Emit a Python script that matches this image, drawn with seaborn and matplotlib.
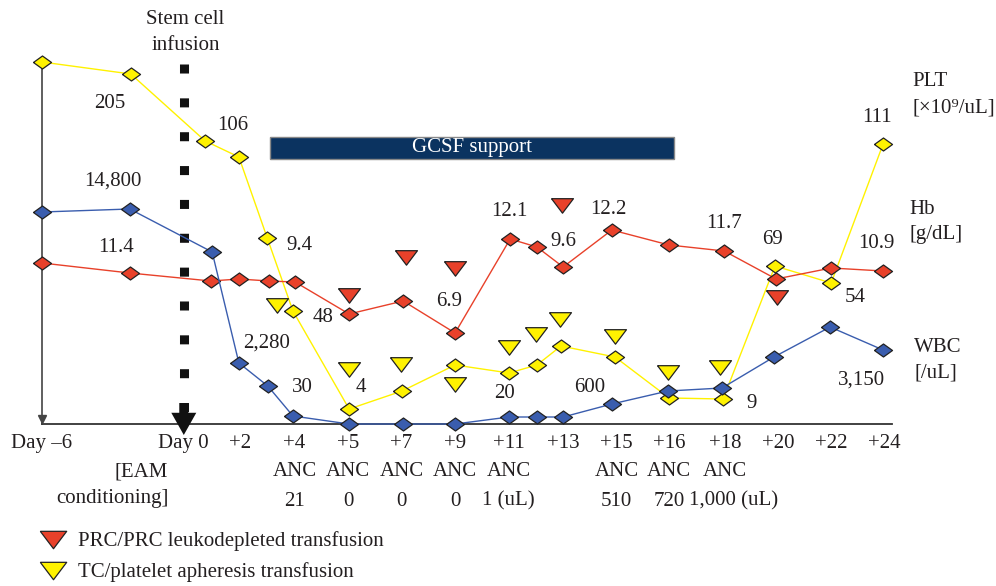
import matplotlib
matplotlib.use("Agg")
import matplotlib.pyplot as plt
from matplotlib.lines import Line2D
from matplotlib.patches import Rectangle
import seaborn as sns

# x positions are chart slots (Day -6 = 0), y values are heights above the baseline
tick_pos = [0, 2.65, 3.7, 4.72, 5.72, 6.72, 7.72, 8.72, 9.74, 10.74, 11.72, 12.77, 13.76, 14.76, 15.74]
tick_labels = ["Day \u20136", "Day 0", "+2", "+4", "+5", "+7", "+9", "+11", "+13",
               "+15", "+16", "+18", "+20", "+22", "+24"]

plt_x = [0, 1.66, 3.05, 3.68, 4.21, 4.69, 5.74, 6.73, 7.72, 8.73, 9.25, 9.70, 10.71, 11.72, 12.73, 13.70, 14.75, 15.72]
plt_y = [362, 350, 283, 267, 186, 113, 15, 33, 59, 51, 59, 78, 67, 26, 25, 158, 141, 280]

wbc_x = [0, 1.64, 3.18, 3.68, 4.22, 4.69, 5.74, 6.75, 7.72, 8.73, 9.25, 9.74, 10.65, 11.70, 12.71, 13.68, 14.73, 15.72]
wbc_y = [212, 215, 172, 61, 38, 8, 0, 0, 0, 7, 7, 7, 20, 33, 36, 67, 97, 74]

hb_x = [0, 1.64, 3.16, 3.68, 4.24, 4.73, 5.74, 6.75, 7.72, 8.75, 9.25, 9.74, 10.65, 11.72, 12.75, 13.72, 14.75, 15.72]
hb_y = [161, 151, 143, 145, 143, 142, 110, 123, 91, 185, 177, 157, 194, 179, 173, 145, 156, 153]

prc_x = [5.74, 6.80, 7.72, 9.72, 13.74]
prc_y = [129, 167, 156, 219, 127]

tc_x = [4.39, 5.74, 6.71, 7.72, 8.73, 9.23, 9.68, 10.71, 11.70, 12.67]
tc_y = [119, 55, 60, 40, 77, 90, 105, 88, 52, 57]

# value labels: text, x, y
value_labels = [
    ("205", 1.27, 321), ("106", 3.57, 299), ("14,800", 1.33, 243), ("11.4", 1.38, 177),
    ("9.4", 4.82, 179), ("48", 5.25, 106), ("2,280", 4.19, 81), ("30", 4.86, 36),
    ("4", 5.96, 36), ("6.9", 7.61, 122), ("12.1", 8.73, 212), ("9.6", 9.74, 182),
    ("12.2", 10.58, 215), ("11.7", 12.75, 201), ("69", 13.66, 185), ("10.9", 15.59, 181),
    ("54", 15.20, 127), ("20", 8.65, 30), ("600", 10.24, 37), ("9", 13.27, 20),
    ("3,150", 15.31, 44), ("111", 15.61, 307),
]

anc_pos = [4.72, 5.72, 6.72, 7.72, 8.72, 10.74, 11.72, 12.77]
anc_values = ["21", "0", "0", "0", "1 (uL)", "510", "720", "1,000 (uL)"]

RED = "#E8412A"
BLUE = "#3A5DAE"
YELLOW = "#FFF200"
EDGE = "#222222"
NAVY = "#0B3360"

diamond = [(-1, 0), (0, 0.72), (1, 0), (0, -0.72), (-1, 0)]
tri_down = [(-1, 0.62), (1, 0.62), (0, -0.7), (-1, 0.62)]

sns.set_style("white")
plt.rcParams["font.family"] = ["Liberation Serif", "DejaVu Serif"]
plt.rcParams["font.size"] = 15
plt.rcParams["text.color"] = "#231f20"

fig = plt.figure(figsize=(9.96, 5.86), dpi=100)
ax = fig.add_axes([0, 162 / 586, 1, 424 / 586])
ax.set_xlim(-0.785, 17.83)
ax.set_ylim(0, 424)

line_kw = dict(marker=diamond, markersize=13, markeredgecolor=EDGE,
               markeredgewidth=0.9, linewidth=1.0, clip_on=False, zorder=4)
sns.lineplot(x=plt_x, y=plt_y, color=YELLOW, markerfacecolor=YELLOW, ax=ax, **line_kw)
sns.lineplot(x=hb_x, y=hb_y, color=RED, markerfacecolor=RED, ax=ax, **line_kw)
sns.lineplot(x=wbc_x, y=wbc_y, color=BLUE, markerfacecolor=BLUE, ax=ax, **line_kw)

sns.scatterplot(x=prc_x, y=prc_y, marker=tri_down, s=250, color=RED,
                edgecolor=EDGE, linewidth=0.9, ax=ax, zorder=5)
sns.scatterplot(x=tc_x, y=tc_y, marker=tri_down, s=250, color=YELLOW,
                edgecolor=EDGE, linewidth=0.9, ax=ax, zorder=5)

# axes lines
for side in ["top", "right"]:
    ax.spines[side].set_visible(False)
ax.spines["bottom"].set_bounds(0, 15.89)
ax.spines["bottom"].set_color("#333333")
ax.spines["bottom"].set_linewidth(1.3)
ax.spines["left"].set_position(("data", 0))
ax.spines["left"].set_bounds(0, 362)
ax.spines["left"].set_color("#444444")
ax.spines["left"].set_linewidth(1.2)
ax.plot([0], [5], marker="v", markersize=6, color="#444444", clip_on=False, zorder=3)
ax.set_yticks([])
ax.set_xticks(tick_pos, tick_labels)
ax.tick_params(axis="x", length=0, pad=7, labelsize=15, labelcolor="#231f20")

# stem cell infusion marker
ax.plot([2.65, 2.65], [360, 12], color="#111111", linewidth=6.5,
        linestyle=(0, (1.0, 2.75)), solid_capstyle="butt", dash_capstyle="butt", zorder=3)
ax.annotate("", xy=(2.65, -11), xytext=(2.65, 21),
            arrowprops=dict(facecolor="#111111", edgecolor="none", width=6.5,
                            headwidth=18, headlength=16, shrink=0),
            annotation_clip=False, zorder=6)
ax.text(2.68, 405, "Stem cell", ha="center", va="center")
ax.text(2.68, 379, "infusion", ha="center", va="center")

# GCSF support bar
ax.add_patch(Rectangle((4.26, 265), 7.55, 22, facecolor=NAVY, edgecolor="#888888",
                       linewidth=1.0, zorder=2))
ax.text(8.04, 276.5, "GCSF support", color="white", ha="center", va="center", zorder=3)

for txt, x, y in value_labels:
    ax.text(x, y, txt, ha="center", va="center", zorder=6)

# series names on the right
ax.text(16.26, 342, "PLT", ha="left", va="center")
ax.text(16.27, 316, "[\u00d710\u2079/uL]", ha="left", va="center")
ax.text(16.22, 215, "Hb", ha="left", va="center")
ax.text(16.22, 189, "[g/dL]", ha="left", va="center")
ax.text(16.30, 77, "WBC", ha="left", va="center")
ax.text(16.31, 51, "[/uL]", ha="left", va="center")

# ANC rows below the axis
for x, v in zip(anc_pos, anc_values):
    ax.text(x, -48, "ANC", ha="center", va="center", clip_on=False)
    ax.text(x if "1,000" not in v else x + 0.15, -77, v, ha="center", va="center", clip_on=False)
ax.text(1.85, -48, "[EAM", ha="center", va="center", clip_on=False)
ax.text(1.31, -74, "conditioning]", ha="center", va="center", clip_on=False)

handles = [
    Line2D([], [], linestyle="none", marker=tri_down, markersize=19,
           markerfacecolor=RED, markeredgecolor=EDGE, markeredgewidth=0.9),
    Line2D([], [], linestyle="none", marker=tri_down, markersize=19,
           markerfacecolor=YELLOW, markeredgecolor=EDGE, markeredgewidth=0.9),
]
fig.legend(handles, ["PRC/PRC leukodepleted transfusion", "TC/platelet apheresis transfusion"],
           loc="upper left", bbox_to_anchor=(40 / 996, 1 - 531 / 586), frameon=False,
           handlelength=1.2, handletextpad=0.6, labelspacing=0.55, fontsize=15,
           borderpad=0, borderaxespad=0)

fig.savefig("out.png", dpi=100)
